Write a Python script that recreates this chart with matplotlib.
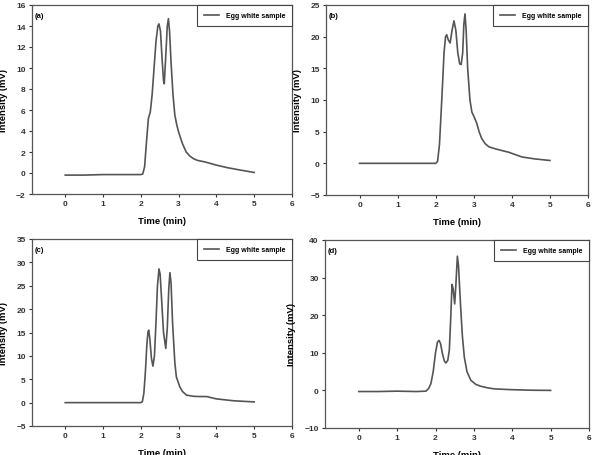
import matplotlib.pyplot as plt

plt.rcParams['font.family'] = ['Liberation Sans', 'DejaVu Sans']
plt.rcParams['font.weight'] = 'bold'

# (a)
t_a = [0, 0.5, 1.0, 1.5, 2.0, 2.05, 2.1, 2.15, 2.2, 2.25, 2.3, 2.35, 2.4, 2.45, 2.48,
       2.52, 2.56, 2.6, 2.62, 2.65, 2.7, 2.73, 2.76, 2.8, 2.85, 2.9, 2.95, 3.0, 3.1,
       3.2, 3.3, 3.4, 3.5, 3.7, 4.0, 4.3, 4.6, 5.0]
y_a = [-0.2, -0.2, -0.15, -0.15, -0.15, -0.1, 0.6, 3.0, 5.2, 5.8, 7.5, 10.0, 12.5, 14.0, 14.2,
       13.5, 11.0, 8.8, 8.5, 10.5, 14.0, 14.7, 13.5, 10.5, 7.5, 5.5, 4.6, 3.9, 2.8,
       2.0, 1.6, 1.35, 1.2, 1.05, 0.75, 0.5, 0.3, 0.05]

# (b)
t_b = [0, 0.5, 1.0, 1.5, 2.0, 2.05, 2.1, 2.16, 2.22, 2.26, 2.29, 2.33, 2.38, 2.43, 2.48,
       2.53, 2.58, 2.63, 2.67, 2.71, 2.74, 2.77, 2.8, 2.84, 2.9, 2.95, 3.02, 3.08, 3.14,
       3.21, 3.3, 3.4, 3.56, 3.75, 3.92, 4.1, 4.27, 4.6, 5.0]
y_b = [0, 0, 0, 0, 0, 0.3, 3.0, 10.0, 17.5, 20.0, 20.3, 19.5, 19.0, 21.0, 22.5,
       21.0, 17.5, 15.7, 15.6, 17.5, 22.0, 23.6, 21.0, 15.0, 10.0, 8.1, 7.2, 6.3, 5.0,
       3.9, 3.1, 2.6, 2.3, 2.0, 1.75, 1.35, 1.0, 0.7, 0.45]

# (c)
t_c = [0, 0.5, 1.0, 1.5, 2.0, 2.04, 2.08, 2.12, 2.16, 2.19, 2.21, 2.24, 2.28, 2.32, 2.36,
       2.4, 2.44, 2.48, 2.51, 2.55, 2.6, 2.66, 2.7, 2.74, 2.77, 2.8, 2.84, 2.9, 2.94,
       3.03, 3.1, 3.21, 3.4, 3.56, 3.74, 4.0, 4.45, 5.0]
y_c = [0, 0, 0, 0, 0, 0.2, 2.0, 6.5, 12.5, 15.2, 15.5, 13.5, 9.5, 7.8, 10.0,
       17.0, 25.0, 28.6, 27.5, 22.0, 15.0, 11.6, 16.0, 24.5, 27.8, 25.5, 17.0, 8.5, 5.5,
       3.4, 2.4, 1.6, 1.35, 1.3, 1.3, 0.8, 0.4, 0.15]

# (d)
t_d = [0, 0.5, 1.0, 1.5, 1.75, 1.82, 1.88, 1.94, 2.0, 2.05, 2.09, 2.13, 2.18, 2.23, 2.27,
       2.32, 2.36, 2.4, 2.43, 2.46, 2.5, 2.53, 2.57, 2.6, 2.63, 2.66, 2.7, 2.75, 2.82,
       2.92, 3.05, 3.18, 3.35, 3.53, 3.97, 4.5, 5.0]
y_d = [-0.3, -0.3, -0.2, -0.3, -0.2, 0.5, 1.8, 5.0, 10.0, 12.8, 13.3, 12.5, 9.8, 7.8, 7.3,
       8.0, 10.7, 20.0, 28.2, 27.0, 23.0, 28.0, 35.7, 33.0, 27.0, 21.3, 14.5, 8.9, 5.0,
       2.7, 1.6, 1.1, 0.7, 0.4, 0.2, 0.05, 0.0]

panels = [
    ('(a)', t_a, y_a, (-2, 16), range(-2, 17, 2), (32, 292, 6, 195)),
    ('(b)', t_b, y_b, (-5, 25), range(-5, 26, 5), (326, 588, 6, 196)),
    ('(c)', t_c, y_c, (-5, 35), range(-5, 36, 5), (32, 292, 240, 427)),
    ('(d)', t_d, y_d, (-10, 40), range(-10, 41, 10), (325, 589, 241, 429)),
]

W, H = 593, 456
fig = plt.figure(figsize=(W / 100, H / 100), dpi=100)

for label, t, y, ylim, yticks, (l, r, top, bot) in panels:
    ax = fig.add_axes([l / W, (H - bot) / H, (r - l) / W, (bot - top) / H])
    ax.plot(t, y, color='#555555', lw=1.2, label='Egg white sample')
    ax.set_xlim(-0.88, 6)
    ax.set_ylim(*ylim)
    ax.set_xticks(range(0, 7))
    ax.set_yticks(list(yticks))
    ax.tick_params(direction='out', length=2.5, width=0.8, labelsize=6, pad=2, colors='#333333')
    for s in ax.spines.values():
        s.set_color('#555555')
        s.set_linewidth(0.9)
    ax.set_xlabel('Time (min)', fontsize=6.8, fontweight='bold', labelpad=6)
    ax.set_ylabel('Intensity (mV)', fontsize=6.8, fontweight='bold', labelpad=6)
    ax.text(0.01, 0.965, label, transform=ax.transAxes, fontsize=5.5, fontweight='bold',
            va='top', ha='left')
    leg = ax.legend(loc='upper right', prop={'size': 5, 'weight': 'bold'}, frameon=True,
                    fancybox=False, borderaxespad=0, handlelength=2.2, handletextpad=0.9,
                    borderpad=1.0, edgecolor='#444444', framealpha=1)
    leg.get_frame().set_linewidth(0.8)

fig.savefig('out.png', dpi=100)
